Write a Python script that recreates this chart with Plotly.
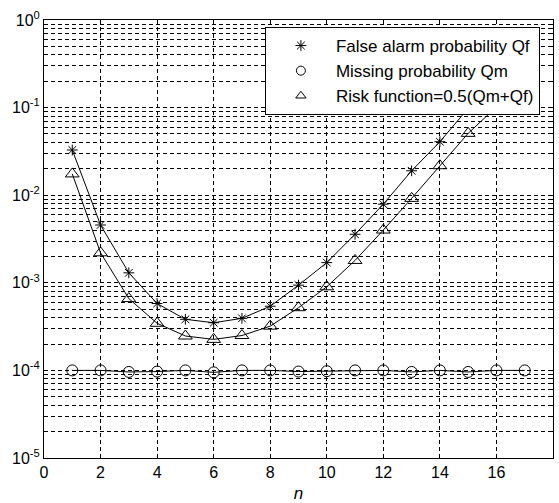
import plotly.graph_objects as go

n_f = list(range(1, 17))
qf = [0.0328, 0.00457, 0.0013, 5.8e-4, 3.83e-4, 3.5e-4, 3.93e-4, 5.4e-4, 9.4e-4,
      1.7e-3, 3.58e-3, 7.9e-3, 0.019, 0.0408, 0.098, 0.21]
n_m = list(range(1, 18))
qm = [1.0e-4, 1.0e-4, 0.96e-4, 0.97e-4, 1.0e-4, 0.95e-4, 1.0e-4, 1.0e-4, 0.97e-4,
      0.98e-4, 1.0e-4, 1.0e-4, 0.96e-4, 1.0e-4, 0.96e-4, 1.0e-4, 1.0e-4]
n_r = list(range(1, 17))
risk = [0.0175, 0.0022, 6.6e-4, 3.45e-4, 2.47e-4, 2.26e-4, 2.5e-4, 3.2e-4, 5.2e-4,
        9.0e-4, 1.8e-3, 4.0e-3, 9.2e-3, 0.0217, 0.0508, 0.102]

names = ["False alarm probability Qf", "Missing probability Qm", "Risk function=0.5(Qm+Qf)"]
symbols = ["asterisk-open", "circle-open", "triangle-up-open"]

y_tickvals = [1e-5, 1e-4, 1e-3, 1e-2, 1e-1, 1]
y_ticktext = ["10<sup>-5</sup>", "10<sup>-4</sup>", "10<sup>-3</sup>", "10<sup>-2</sup>",
              "10<sup>-1</sup>", "10<sup>0</sup>"]
y_minorvals = [k * 10.0 ** e for e in range(-5, 0) for k in range(2, 10)]
x_tickvals = list(range(0, 19, 2))

fig = go.Figure()
for xs, ys, sym, sz in [(n_f, qf, symbols[0], 9), (n_m, qm, symbols[1], 11), (n_r, risk, symbols[2], 12)]:
    fig.add_trace(go.Scatter(x=xs, y=ys, mode="lines+markers", showlegend=False,
                             line=dict(color="black", width=1),
                             marker=dict(symbol=sym, size=sz, color="black",
                                         line=dict(color="black", width=1))))
for nm, sym in zip(names, symbols):
    fig.add_trace(go.Scatter(x=[None], y=[None], mode="markers", name=nm,
                             marker=dict(symbol=sym, size=9, color="black",
                                         line=dict(color="black", width=1))))

dash = "4px,3px"
fig.update_layout(
    width=559, height=503,
    margin=dict(l=44, r=6, t=20, b=45),
    paper_bgcolor="white", plot_bgcolor="white",
    font=dict(family="Liberation Sans, Arial", size=16, color="black"),
    legend=dict(x=0.434, y=0.984, xanchor="left", yanchor="top",
                bgcolor="white", bordercolor="black", borderwidth=1,
                font=dict(size=17), itemwidth=60, tracegroupgap=0),
    xaxis=dict(range=[0, 18], tickvals=x_tickvals, showgrid=True, automargin=False,
               gridcolor="black", griddash=dash, gridwidth=1,
               showline=True, linecolor="black", linewidth=1, mirror="allticks",
               ticks="inside", ticklen=4, tickcolor="black", zeroline=False,
               title=dict(text="<i>n</i>", font=dict(size=17), standoff=6)),
    yaxis=dict(type="log", range=[-5, 0], tickvals=y_tickvals, ticktext=y_ticktext,
               showgrid=True, gridcolor="black", griddash=dash, gridwidth=1,
               automargin=False,
               showline=True, linecolor="black", linewidth=1, mirror="allticks",
               ticks="inside", ticklen=4, tickcolor="black", zeroline=False,
               minor=dict(showgrid=True, gridcolor="black", griddash=dash,
                          gridwidth=1, ticks="inside", ticklen=2,
                          tickvals=y_minorvals)),
)

fig.write_html("out.html", config={"displayModeBar": False},
               post_script="document.body.style.margin='0';")
